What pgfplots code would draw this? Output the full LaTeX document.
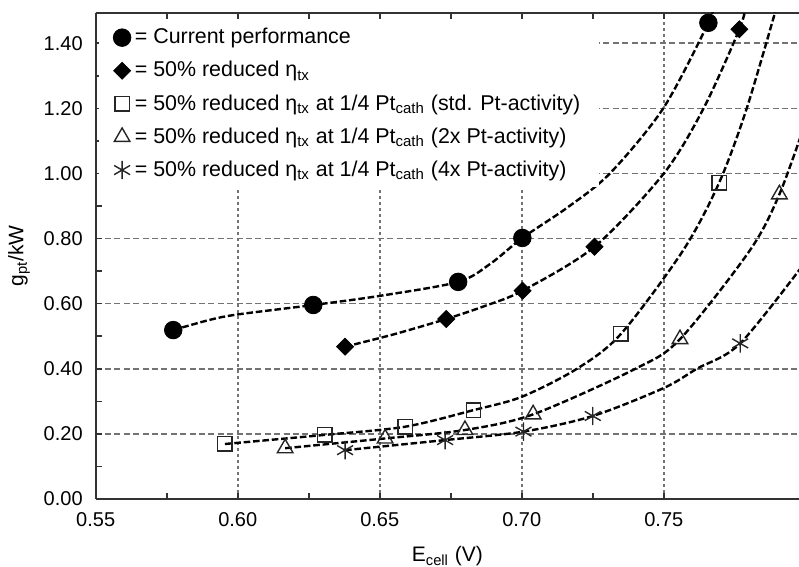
\documentclass[border=0pt]{standalone}
\usepackage{pgfplots}
\pgfplotsset{compat=1.18}
\usepackage{fontspec}
\setmainfont{Liberation Sans}

% marker data
\pgfplotstableread{
x y
0.5773 0.519
0.6266 0.596
0.6776 0.667
0.7002 0.802
0.7657 1.463
}\circdata
\pgfplotstableread{
x y
0.6378 0.468
0.6734 0.553
0.7003 0.640
0.7256 0.775
0.7766 1.443
}\diadata
\pgfplotstableread{
x y
0.5955 0.169
0.6307 0.197
0.6589 0.222
0.6830 0.273
0.7349 0.507
0.7695 0.972
}\sqdata
\pgfplotstableread{
x y
0.6167 0.156
0.6519 0.186
0.6800 0.212
0.7040 0.260
0.7557 0.491
0.7907 0.936
}\tridata
\pgfplotstableread{
x y
0.6378 0.150
0.6730 0.181
0.7006 0.207
0.7250 0.255
0.7769 0.478
}\astdata

\begin{document}
\begin{tikzpicture}
\begin{axis}[
  scale only axis, width=351.65pt, height=243.15pt,
  xmin=0.55, xmax=0.7976, ymin=0, ymax=1.494,
  axis x line=box, axis y line=left,
  axis line style={-, black!80, line width=0.9pt},
  xtick={0.55,0.6,0.65,0.7,0.75}, minor x tick num=1,
  ytick={0,0.2,0.4,0.6,0.8,1.0,1.2,1.4}, minor y tick num=1,
  tick align=inside,
  major tick length=3pt, minor tick length=3pt,
  tick style={black!80, line width=0.8pt},
  /pgf/number format/fixed, /pgf/number format/fixed zerofill,
  /pgf/number format/precision=2, /pgf/number format/assume math mode=true,
  tick label style={font=\fontsize{10}{12}\selectfont},
  xticklabel style={yshift=-3pt},
  yticklabel style={xshift=-3pt},
  grid=major,
  major x grid style={black!55, line width=0.8pt, dash pattern=on 1.7pt off 1.3pt},
  major y grid style={black!55, line width=0.8pt, dash pattern=on 3pt off 1.7pt},
  xlabel={E\textsubscript{cell} (V)},
  ylabel={g\textsubscript{pt}/kW},
  label style={font=\fontsize{10.5}{12}\selectfont},
  xlabel style={at={(axis description cs:0.5,-0.118)}, anchor=center},
  ylabel style={at={(axis description cs:-0.109,0.5)}, anchor=center},
  legend style={at={(axis description cs:0.004,0.985)}, anchor=north west,
    draw=none, fill=white, font=\fontsize{10.7}{12.5}\selectfont, row sep=3.3pt,
    inner xsep=7.2pt, inner ysep=2pt},
  legend cell align=left,
  legend image code/.code={\draw[mark repeat=2,mark phase=2,#1] plot coordinates {(0cm,0cm)(0.22cm,0cm)(0.57cm,0cm)};},
]
\coordinate (SW) at (rel axis cs:0,0);
% fitted dashed curves
\pgfplotsset{curve/.style={smooth, black, line width=1.2pt, dash pattern=on 3.3pt off 1.4pt, forget plot}}
\addplot[curve] coordinates {(0.5773,0.519)(0.590,0.550)(0.600,0.567)(0.6266,0.596)(0.650,0.624)(0.6776,0.667)(0.689,0.723)(0.7002,0.802)(0.716,0.895)(0.731,1.0)(0.7498,1.2)(0.7657,1.463)(0.7675,1.52)};
\addplot[curve] coordinates {(0.6378,0.468)(0.655,0.506)(0.6734,0.553)(0.687,0.593)(0.7003,0.640)(0.7256,0.775)(0.750,1.0)(0.764,1.2)(0.7766,1.443)(0.779,1.52)};
\addplot[curve] coordinates {(0.5955,0.169)(0.6307,0.197)(0.6589,0.222)(0.6830,0.273)(0.700,0.314)(0.7194,0.40)(0.7349,0.507)(0.7569,0.765)(0.7695,0.972)(0.7792,1.2)(0.790,1.52)};
\addplot[curve] coordinates {(0.6167,0.156)(0.6519,0.186)(0.6800,0.212)(0.7040,0.260)(0.740,0.40)(0.7557,0.491)(0.7804,0.765)(0.7907,0.936)(0.800,1.16)};
\addplot[curve] coordinates {(0.6378,0.150)(0.6730,0.181)(0.7006,0.207)(0.7250,0.255)(0.750,0.341)(0.7616,0.40)(0.7769,0.478)(0.800,0.73)};
% markers
\addplot[only marks, black, mark=*, mark size=4.4pt] table {\circdata};
\addlegendentry{= Current performance}
\addplot[only marks, black, mark=square*, mark size=3pt, mark options={rotate=45}] table {\diadata};
\addlegendentry{= 50\% reduced η\textsubscript{tx}}
\addplot[only marks, black!85, mark=square, mark size=3.6pt, mark options={line width=0.7pt}] table {\sqdata};
\addlegendentry{= 50\% reduced η\textsubscript{tx} at 1/4 Pt\textsubscript{cath} (std. Pt-activity)}
\addplot[only marks, black!85, mark=triangle, mark size=4.5pt, mark options={line width=0.7pt}] table {\tridata};
\addlegendentry{= 50\% reduced η\textsubscript{tx} at 1/4 Pt\textsubscript{cath} (2x Pt-activity)}
\addplot[only marks, black!85, mark=asterisk, mark size=4.6pt, mark options={line width=0.7pt}] table {\astdata};
\addlegendentry{= 50\% reduced η\textsubscript{tx} at 1/4 Pt\textsubscript{cath} (4x Pt-activity)}
\end{axis}
\pgfresetboundingbox
\path (SW) ++(-47.85pt,-34pt) rectangle ++(399.5pt,283.5pt);
\end{tikzpicture}
\end{document}
